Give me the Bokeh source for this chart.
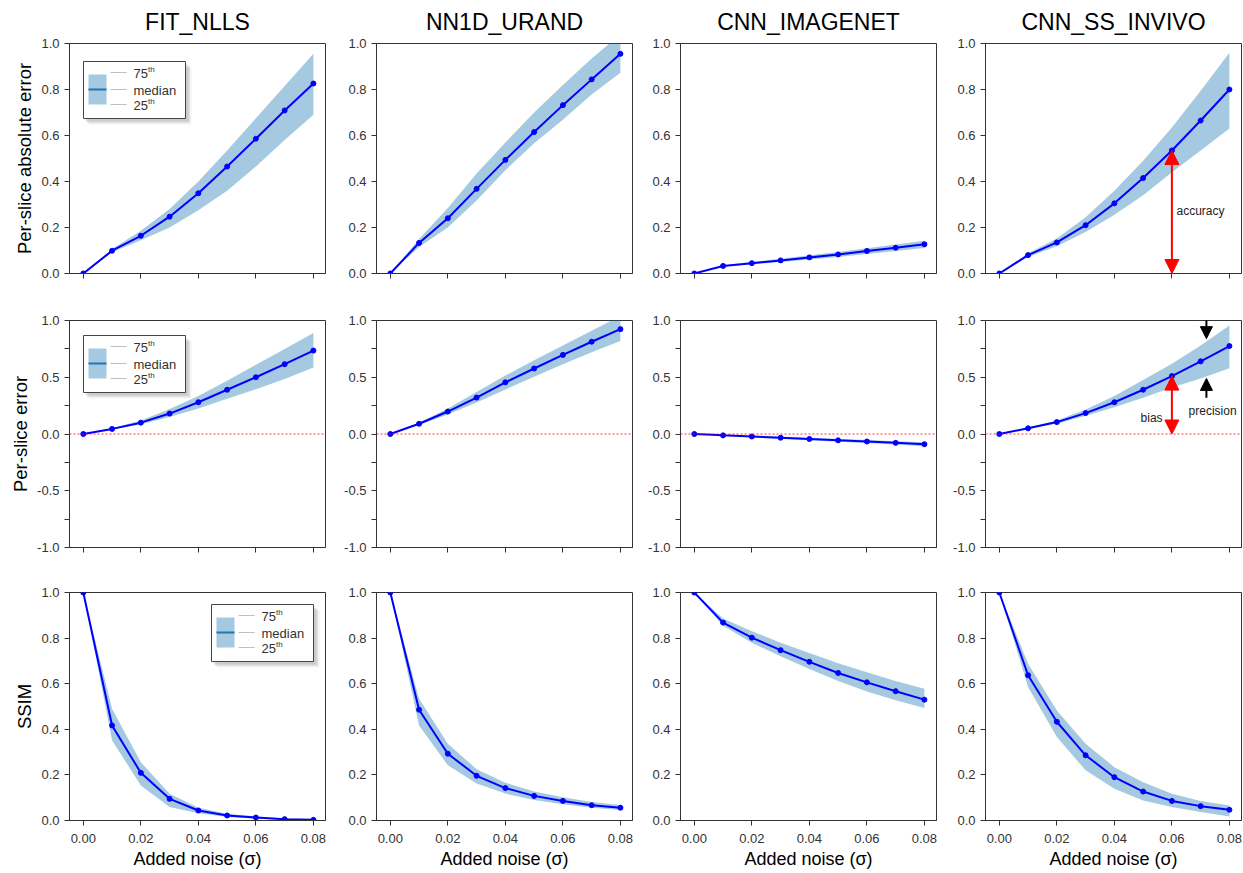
from bokeh.plotting import figure
from bokeh.layouts import gridplot
from bokeh.models import (FixedTicker, NumeralTickFormatter, Span, Arrow, NormalHead, Range1d,
                          CustomLabelingPolicy)
from bokeh.embed import file_html
from bokeh.resources import INLINE
from bokeh.core.properties import value

# ---------------- data ----------------
x_noise = [0.00, 0.01, 0.02, 0.03, 0.04, 0.05, 0.06, 0.07, 0.08]
methods = ["FIT_NLLS", "NN1D_URAND", "CNN_IMAGENET", "CNN_SS_INVIVO"]
metrics = ["Per-slice absolute error", "Per-slice error", "SSIM"]
x_label = "Added noise (\u03c3)"
x_ticks = [0.00, 0.02, 0.04, 0.06, 0.08]
y_ticks_unit = [0.0, 0.2, 0.4, 0.6, 0.8, 1.0]
y_ticks_err = [-1.0, -0.5, 0.0, 0.5, 1.0]
y_minor_err = [-0.75, -0.25, 0.25, 0.75]
legend_labels = ["75", "median", "25"]
legend_sup = ["th", "", "th"]

# row 1: per-slice absolute error
fit_abs_med = [0, 0.099, 0.164, 0.247, 0.349, 0.465, 0.586, 0.709, 0.826]
fit_abs_q75 = [0, 0.106, 0.186, 0.280, 0.400, 0.535, 0.675, 0.815, 0.955]
fit_abs_q25 = [0, 0.092, 0.145, 0.200, 0.275, 0.360, 0.465, 0.580, 0.690]
nn_abs_med = [0, 0.133, 0.240, 0.368, 0.494, 0.615, 0.732, 0.844, 0.955]
nn_abs_q75 = [0, 0.150, 0.285, 0.435, 0.570, 0.700, 0.820, 0.935, 1.040]
nn_abs_q25 = [0, 0.115, 0.200, 0.317, 0.449, 0.566, 0.668, 0.778, 0.873]
imnet_abs_med = [0, 0.033, 0.045, 0.057, 0.070, 0.083, 0.098, 0.112, 0.127]
imnet_abs_q75 = [0, 0.036, 0.050, 0.064, 0.079, 0.094, 0.110, 0.126, 0.142]
imnet_abs_q25 = [0, 0.030, 0.040, 0.050, 0.061, 0.072, 0.085, 0.098, 0.111]
ss_abs_med = [0, 0.080, 0.135, 0.210, 0.305, 0.415, 0.535, 0.665, 0.800]
ss_abs_q75 = [0, 0.088, 0.152, 0.245, 0.360, 0.490, 0.635, 0.795, 0.960]
ss_abs_q25 = [0, 0.072, 0.118, 0.180, 0.255, 0.340, 0.440, 0.535, 0.630]

# row 2: per-slice error
fit_err_med = [0, 0.045, 0.100, 0.180, 0.280, 0.390, 0.500, 0.615, 0.735]
fit_err_q75 = [0, 0.050, 0.120, 0.220, 0.335, 0.470, 0.610, 0.750, 0.890]
fit_err_q25 = [0, 0.040, 0.085, 0.150, 0.225, 0.310, 0.395, 0.485, 0.585]
nn_err_med = [0, 0.090, 0.198, 0.321, 0.455, 0.577, 0.697, 0.813, 0.924]
nn_err_q75 = [0, 0.100, 0.225, 0.370, 0.515, 0.650, 0.780, 0.910, 1.040]
nn_err_q25 = [0, 0.080, 0.172, 0.278, 0.392, 0.505, 0.615, 0.720, 0.820]
imnet_err_med = [0, -0.012, -0.022, -0.033, -0.044, -0.056, -0.066, -0.078, -0.090]
imnet_err_q75 = [0, -0.008, -0.016, -0.025, -0.034, -0.044, -0.053, -0.063, -0.073]
imnet_err_q25 = [0, -0.016, -0.028, -0.041, -0.054, -0.068, -0.080, -0.093, -0.107]
ss_err_med = [0, 0.050, 0.105, 0.184, 0.280, 0.390, 0.510, 0.640, 0.775]
ss_err_q75 = [0, 0.055, 0.120, 0.215, 0.335, 0.475, 0.620, 0.780, 0.955]
ss_err_q25 = [0, 0.045, 0.090, 0.160, 0.235, 0.320, 0.410, 0.490, 0.580]

# row 3: SSIM
fit_ssim_med = [1.0, 0.417, 0.209, 0.095, 0.044, 0.022, 0.013, 0.006, 0.003]
fit_ssim_q75 = [1.0, 0.490, 0.256, 0.117, 0.056, 0.030, 0.018, 0.009, 0.005]
fit_ssim_q25 = [1.0, 0.351, 0.154, 0.059, 0.032, 0.015, 0.008, 0.004, 0.002]
nn_ssim_med = [1.0, 0.486, 0.293, 0.196, 0.142, 0.108, 0.086, 0.067, 0.056]
nn_ssim_q75 = [1.0, 0.534, 0.337, 0.225, 0.166, 0.127, 0.102, 0.081, 0.068]
nn_ssim_q25 = [1.0, 0.417, 0.242, 0.162, 0.118, 0.090, 0.071, 0.056, 0.046]
imnet_ssim_med = [1.0, 0.868, 0.802, 0.747, 0.696, 0.647, 0.606, 0.567, 0.530]
imnet_ssim_q75 = [1.0, 0.886, 0.830, 0.780, 0.735, 0.690, 0.650, 0.612, 0.578]
imnet_ssim_q25 = [1.0, 0.854, 0.780, 0.720, 0.665, 0.612, 0.566, 0.527, 0.493]
ss_ssim_med = [1.0, 0.637, 0.433, 0.286, 0.190, 0.127, 0.086, 0.063, 0.047]
ss_ssim_q75 = [1.0, 0.688, 0.483, 0.337, 0.234, 0.168, 0.117, 0.085, 0.066]
ss_ssim_q25 = [1.0, 0.586, 0.366, 0.220, 0.139, 0.088, 0.059, 0.037, 0.018]

series = [
    [(fit_abs_med, fit_abs_q75, fit_abs_q25), (nn_abs_med, nn_abs_q75, nn_abs_q25),
     (imnet_abs_med, imnet_abs_q75, imnet_abs_q25), (ss_abs_med, ss_abs_q75, ss_abs_q25)],
    [(fit_err_med, fit_err_q75, fit_err_q25), (nn_err_med, nn_err_q75, nn_err_q25),
     (imnet_err_med, imnet_err_q75, imnet_err_q25), (ss_err_med, ss_err_q75, ss_err_q25)],
    [(fit_ssim_med, fit_ssim_q75, fit_ssim_q25), (nn_ssim_med, nn_ssim_q75, nn_ssim_q25),
     (imnet_ssim_med, imnet_ssim_q75, imnet_ssim_q25), (ss_ssim_med, ss_ssim_q75, ss_ssim_q25)],
]

# ---------------- layout ----------------
FONT = "Liberation Sans"
FW = 256
FH = [230, 227, 228]
LB = [69, 49, 46, 47]
TB = [43, 23, 23]
BB = [24, 22, 53]
XR = (-0.0048, 0.0842)
YR = [(0.0, 1.0), (-1.0, 1.0), (0.0, 1.0)]
BAND = "#1f77b4"
AXC = "#333333"

hide_labels = CustomLabelingPolicy(code="""
    for (const i of Array.from(indices)) { indices.unset(i) }
    return indices
""")


def draw_legend(p, r, left, top):
    xr, yr, fh = XR, YR[r], FH[r]

    def X(px):
        return xr[0] + px / FW * (xr[1] - xr[0])

    def Y(py):
        return yr[1] - py / fh * (yr[1] - yr[0])

    w, h = 102, 57
    for k, a in [(6, 0.05), (4.5, 0.07), (3, 0.09)]:
        p.quad(left=X(left + k - 1), right=X(left + w + k), top=Y(top + k), bottom=Y(top + h + k),
               fill_color="black", fill_alpha=a, line_color=None)
    p.quad(left=X(left), right=X(left + w), top=Y(top), bottom=Y(top + h),
           fill_color="white", line_color="#444444", line_width=1)
    p.quad(left=X(left + 5), right=X(left + 23), top=Y(top + 13), bottom=Y(top + 43),
           fill_color=BAND, fill_alpha=0.4, line_color=None)
    p.line([X(left + 5), X(left + 23)], [Y(top + 28)] * 2, line_color=BAND, line_width=2)
    rows = [11, 28, 43]
    for i, ry in enumerate(rows):
        p.line([X(left + 27), X(left + 43)], [Y(top + ry)] * 2, line_color="#b0b0b0", line_width=0.8)
    p.text(x=[X(left + 50)] * 3, y=[Y(top + ry + 1) for ry in rows], text=legend_labels,
           text_font=value(FONT), text_font_size="13px", text_color="#333333",
           text_baseline="middle", text_align="left")
    sx = [X(left + 50 + 14.5), X(left + 50 + 14.5)]
    sy = [Y(top + rows[0] - 3), Y(top + rows[2] - 3)]
    p.text(x=sx, y=sy, text=[legend_sup[0], legend_sup[2]],
           text_font=value(FONT), text_font_size="8px", text_color="#333333",
           text_baseline="middle", text_align="left")


figs = []
for r in range(3):
    row = []
    for c in range(4):
        kw = {}
        if r == 0:
            kw["title"] = methods[c]
        p = figure(frame_width=FW, frame_height=FH[r],
                   x_range=Range1d(*XR), y_range=Range1d(*YR[r]),
                   output_backend="svg", toolbar_location=None,
                   min_border_left=LB[c], min_border_right=2,
                   min_border_top=TB[r], min_border_bottom=BB[r],
                   background_fill_color="white", border_fill_color="white", **kw)
        if r == 0:
            p.title.align = "center"
            p.title.vertical_align = "top"
            p.title.text_font = FONT
            p.title.text_font_size = "23px"
            p.title.text_font_style = "normal"
            p.title.text_color = "black"
            p.title.standoff = 13
        p.xgrid.visible = False
        p.ygrid.visible = False
        p.outline_line_color = AXC
        p.outline_line_width = 1

        for ax in (p.xaxis[0], p.yaxis[0]):
            ax.axis_line_color = AXC
            ax.major_tick_line_color = AXC
            ax.minor_tick_line_color = AXC
            ax.major_tick_out = 5
            ax.major_tick_in = 0
            ax.minor_tick_out = 5
            ax.minor_tick_in = 0
            ax.major_label_text_font = FONT
            ax.major_label_text_font_size = "13px"
            ax.major_label_text_color = "#333333"
            ax.major_label_standoff = 5
            ax.axis_label_text_font = FONT
            ax.axis_label_text_font_style = "normal"
            ax.axis_label_text_color = "black"
            ax.axis_label_standoff = 3

        p.xaxis.ticker = FixedTicker(ticks=x_ticks)
        p.xaxis.formatter = NumeralTickFormatter(format="0.00")
        if r < 2:
            p.xaxis.major_label_policy = hide_labels
            p.xaxis.major_label_standoff = 0
        else:
            p.xaxis.axis_label = x_label
            p.xaxis.axis_label_text_font_size = "18px"
            p.xaxis.major_label_standoff = 8

        if r == 1:
            p.yaxis.ticker = FixedTicker(ticks=y_ticks_err, minor_ticks=y_minor_err)
        else:
            p.yaxis.ticker = FixedTicker(ticks=y_ticks_unit)
        p.yaxis.formatter = NumeralTickFormatter(format="0.0")
        if c == 0:
            p.yaxis.axis_label = metrics[r]
            p.yaxis.axis_label_text_font_size = "18.5px"

        med, q75, q25 = series[r][c]
        if r == 1:
            p.add_layout(Span(location=0, dimension="width", line_color="red",
                              line_dash="2 2", line_width=0.8))
        p.varea(x=x_noise, y1=q25, y2=q75, fill_color=BAND, fill_alpha=0.4)
        p.line(x_noise, med, line_color="#0000ff", line_width=2)
        p.scatter(x_noise, med, size=5, fill_color="#0000ff", line_color="#0000ff")

        if c == 0:
            if r == 0:
                draw_legend(p, r, 14, 18)
            elif r == 1:
                draw_legend(p, r, 14, 15)
            else:
                draw_legend(p, r, 142, 12)

        if c == 3 and r == 0:
            x_acc = x_noise[6]
            p.add_layout(Arrow(x_start=x_acc, y_start=0.0, x_end=x_acc, y_end=med[6],
                               line_color="red", line_width=2,
                               start=NormalHead(size=14, fill_color="red", line_color="red"),
                               end=NormalHead(size=14, fill_color="red", line_color="red")))
            p.text(x=[0.0616], y=[0.27], text=["accuracy"], text_font=value(FONT),
                   text_font_size="12px", text_color="#222222",
                   text_baseline="middle", text_align="left")
        if c == 3 and r == 1:
            x_b = x_noise[6]
            p.add_layout(Arrow(x_start=x_b, y_start=0.0, x_end=x_b, y_end=med[6],
                               line_color="red", line_width=2,
                               start=NormalHead(size=14, fill_color="red", line_color="red"),
                               end=NormalHead(size=14, fill_color="red", line_color="red")))
            p.add_layout(Arrow(x_start=0.072, y_start=1.08, x_end=0.072, y_end=0.84,
                               line_color="black", line_width=2,
                               end=NormalHead(size=12, fill_color="black", line_color="black")))
            p.add_layout(Arrow(x_start=0.072, y_start=0.32, x_end=0.072, y_end=0.49,
                               line_color="black", line_width=2,
                               end=NormalHead(size=12, fill_color="black", line_color="black")))
            p.text(x=[0.0491], y=[0.145], text=["bias"], text_font=value(FONT),
                   text_font_size="12px", text_color="#222222",
                   text_baseline="middle", text_align="left")
            p.text(x=[0.0658], y=[0.207], text=["precision"], text_font=value(FONT),
                   text_font_size="12px", text_color="#222222",
                   text_baseline="middle", text_align="left")
        row.append(p)
    figs.append(row)

grid = gridplot(figs, toolbar_location=None)
open("out.html", "w").write(file_html(grid, INLINE))
